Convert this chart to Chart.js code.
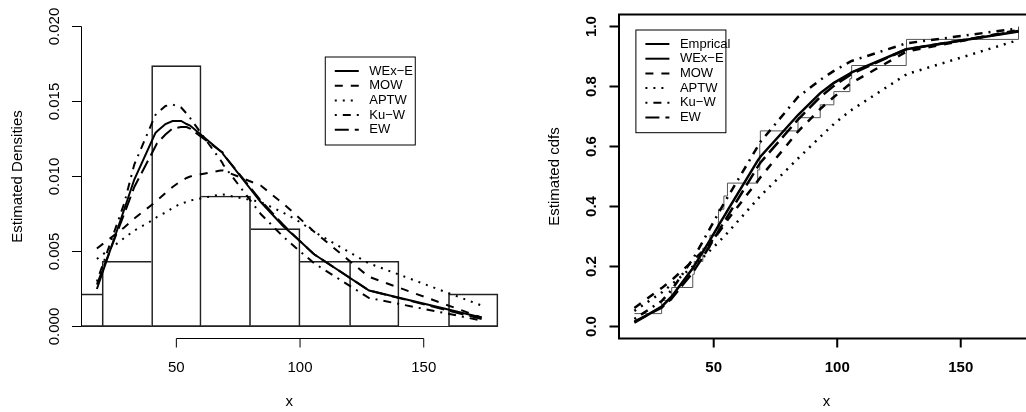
<!DOCTYPE html>
<html>
<head>
<meta charset="utf-8">
<script src="https://cdn.jsdelivr.net/npm/chart.js@4.4.1/dist/chart.umd.min.js"></script>
<style>
  html, body { margin: 0; padding: 0; background: #fff; overflow: hidden; }
  #wrap { position: relative; width: 1026px; height: 412px; overflow: hidden; }
  #left { position: absolute; left: 0; top: 0; }
  #right { position: absolute; left: 513px; top: 0; }
</style>
</head>
<body>
<div id="wrap">
  <canvas id="left" width="513" height="412"></canvas>
  <canvas id="right" width="530" height="412"></canvas>
</div>
<script>
// observed failure times (sorted, unique) where the fitted curves are drawn
let fitX = [17.88, 28.92, 33.00, 41.52, 42.12, 45.60, 48.48, 51.84, 51.96, 54.12, 55.56,
            67.80, 68.64, 68.88, 84.12, 93.12, 98.64, 105.12, 105.84, 127.92, 128.04, 173.40];

// histogram
let binEdges = [0, 20, 40, 60, 80, 100, 120, 140, 160, 180];
let binDensity = [0.00217, 0.00435, 0.01739, 0.00870, 0.00652, 0.00435, 0.00435, 0, 0.00217];

// estimated densities
let pdfWExE = [0.0025, 0.0078, 0.0098, 0.0129, 0.0130, 0.0135, 0.0137, 0.0137, 0.0137, 0.0135, 0.0134,
               0.0117, 0.0116, 0.0115, 0.0083, 0.0067, 0.0059, 0.0049, 0.0048, 0.0024, 0.0024, 0.0006];
let pdfMOW  = [0.0052, 0.0066, 0.0072, 0.0083, 0.0084, 0.0089, 0.0093, 0.0097, 0.0097, 0.0099, 0.0100,
               0.0104, 0.0104, 0.0104, 0.0094, 0.0082, 0.0074, 0.0064, 0.0063, 0.0033, 0.0033, 0.0006];
let pdfAPTW = [0.0045, 0.0059, 0.0064, 0.0072, 0.0073, 0.0076, 0.0079, 0.0082, 0.0082, 0.0083, 0.0084,
               0.0088, 0.0088, 0.0088, 0.0083, 0.0076, 0.0071, 0.0064, 0.0063, 0.0042, 0.0042, 0.0014];
let pdfKuW  = [0.0030, 0.0082, 0.0108, 0.0141, 0.0142, 0.0147, 0.0148, 0.0146, 0.0146, 0.0142, 0.0139,
               0.0111, 0.0109, 0.0108, 0.0075, 0.0060, 0.0052, 0.0043, 0.0042, 0.0019, 0.0019, 0.0004];
let pdfEW   = [0.0028, 0.0075, 0.0093, 0.0120, 0.0122, 0.0128, 0.0132, 0.0133, 0.0133, 0.0133, 0.0132,
               0.0117, 0.0116, 0.0115, 0.0084, 0.0068, 0.0059, 0.0049, 0.0048, 0.0024, 0.0024, 0.0005];

// empirical and estimated cdfs
let ecdfY   = [0.043, 0.087, 0.130, 0.174, 0.217, 0.261, 0.304, 0.348, 0.391, 0.435, 0.478,
               0.522, 0.609, 0.652, 0.696, 0.739, 0.783, 0.826, 0.870, 0.913, 0.957, 1.000];
let cdfWExE = [0.013, 0.066, 0.100, 0.194, 0.202, 0.249, 0.288, 0.335, 0.337, 0.366, 0.386,
               0.553, 0.563, 0.566, 0.705, 0.778, 0.812, 0.843, 0.847, 0.924, 0.924, 0.983];
let cdfMOW  = [0.062, 0.128, 0.155, 0.218, 0.223, 0.252, 0.278, 0.312, 0.313, 0.337, 0.355,
               0.485, 0.494, 0.497, 0.650, 0.725, 0.765, 0.808, 0.812, 0.916, 0.917, 0.988];
let cdfAPTW = [0.052, 0.113, 0.140, 0.200, 0.204, 0.230, 0.253, 0.280, 0.281, 0.300, 0.312,
               0.425, 0.433, 0.435, 0.560, 0.632, 0.675, 0.718, 0.722, 0.840, 0.841, 0.955];
let cdfKuW  = [0.025, 0.085, 0.122, 0.225, 0.233, 0.284, 0.327, 0.377, 0.379, 0.410, 0.430,
               0.600, 0.610, 0.615, 0.765, 0.822, 0.852, 0.882, 0.885, 0.944, 0.944, 0.994];
let cdfEW   = [0.016, 0.063, 0.094, 0.180, 0.187, 0.232, 0.270, 0.316, 0.318, 0.347, 0.367,
               0.532, 0.543, 0.546, 0.690, 0.765, 0.802, 0.838, 0.842, 0.924, 0.924, 0.985];

// axes
let xTicks = [50, 100, 150];
let pdfTicks = [0, 0.005, 0.010, 0.015, 0.020];
let pdfTickLabels = ['0.000', '0.005', '0.010', '0.015', '0.020'];
let cdfTicks = [0, 0.2, 0.4, 0.6, 0.8, 1.0];
let cdfTickLabels = ['0.0', '0.2', '0.4', '0.6', '0.8', '1.0'];

let FONT = '"Liberation Sans", Arial, Helvetica, sans-serif';

// R line types (lty 1..5)
let dashes = {
    'WEx−E': [],
    'MOW': [8, 8],
    'APTW': [2, 6],
    'Ku−W': [2, 6, 8, 6],
    'EW': [14, 6]
};

function pts(xs, ys) {
    return xs.map((v, i) => ({x: v, y: ys[i]}));
}

function curve(label, ys, width) {
    return {
        type: 'line',
        label: label,
        data: pts(fitX, ys),
        borderColor: '#000',
        borderWidth: width,
        borderDash: dashes[label],
        pointRadius: 0,
        tension: 0,
        fill: false,
        order: 1
    };
}

// axes, tick labels and titles drawn the way R does them
let rAxes = {
    id: 'rAxes',
    afterDraw(chart, args, o) {
        let ctx = chart.ctx;
        let a = chart.chartArea;
        let x = chart.scales.x;
        let y = chart.scales.y;
        ctx.save();
        ctx.strokeStyle = '#000';
        ctx.fillStyle = '#000';
        ctx.lineWidth = o.lw;
        ctx.setLineDash([]);
        ctx.beginPath();
        if (o.box) {
            ctx.rect(a.left, a.top, a.right - a.left, a.bottom - a.top);
        } else {
            ctx.moveTo(x.getPixelForValue(o.xTicks[0]), a.bottom);
            ctx.lineTo(x.getPixelForValue(o.xTicks[o.xTicks.length - 1]), a.bottom);
            ctx.moveTo(a.left, y.getPixelForValue(o.yTicks[0]));
            ctx.lineTo(a.left, y.getPixelForValue(o.yTicks[o.yTicks.length - 1]));
        }
        o.xTicks.forEach(v => {
            let px = x.getPixelForValue(v);
            ctx.moveTo(px, a.bottom);
            ctx.lineTo(px, a.bottom + 9);
        });
        o.yTicks.forEach(v => {
            let py = y.getPixelForValue(v);
            ctx.moveTo(a.left, py);
            ctx.lineTo(a.left - 9.5, py);
        });
        ctx.stroke();

        ctx.font = (o.bold ? 'bold ' : '') + '15px ' + FONT;
        ctx.textAlign = 'center';
        ctx.textBaseline = 'middle';
        o.xTicks.forEach(v => ctx.fillText(String(v), x.getPixelForValue(v), a.bottom + 29));
        o.yTicks.forEach((v, i) => {
            ctx.save();
            ctx.translate(a.left - 27, y.getPixelForValue(v));
            ctx.rotate(-Math.PI / 2);
            ctx.fillText(o.yLabels[i], 0, 0);
            ctx.restore();
        });

        ctx.font = '15px ' + FONT;
        ctx.fillText('x', (a.left + a.right) / 2, a.bottom + 63);
        ctx.save();
        ctx.translate(a.left - 64, (a.top + a.bottom) / 2);
        ctx.rotate(-Math.PI / 2);
        ctx.fillText(o.yTitle, 0, 0);
        ctx.restore();
        ctx.restore();
    }
};

// boxed legend placed at a data position, like legend(x, y, ...)
let rLegend = {
    id: 'rLegend',
    afterDraw(chart, args, o) {
        let ctx = chart.ctx;
        let left = chart.scales.x.getPixelForValue(o.at[0]);
        let top = chart.scales.y.getPixelForValue(o.at[1]);
        let h = 14.5 + 14.7 * o.items.length;
        ctx.save();
        ctx.fillStyle = '#fff';
        ctx.fillRect(left, top, 90, h);
        ctx.strokeStyle = '#000';
        ctx.lineWidth = 1;
        ctx.setLineDash([]);
        ctx.strokeRect(left + 0.5, top + 0.5, 90, h);
        ctx.font = '13px ' + FONT;
        ctx.textAlign = 'left';
        ctx.textBaseline = 'middle';
        o.items.forEach((lab, i) => {
            let ly = top + 14.5 + 14.7 * i;
            ctx.beginPath();
            ctx.setLineDash(dashes[lab] || []);
            ctx.lineWidth = o.lw;
            ctx.moveTo(left + 10, ly);
            ctx.lineTo(left + 34, ly);
            ctx.stroke();
            ctx.fillStyle = '#000';
            ctx.fillText(lab, left + 44.5, ly);
        });
        ctx.restore();
    }
};

let histData = binEdges.slice(1).map((e, i) => ({x: (e + binEdges[i]) / 2, y: binDensity[i]}));
let lastBin = histData.length - 1;

// a shared edge between two bins is drawn once, by the taller bin
function binBorder(c) {
    let i = c.dataIndex;
    let d = binDensity;
    return {
        top: 1,
        bottom: 1,
        left: (i === 0 || d[i] >= d[i - 1]) ? 1 : 0,
        right: (i === lastBin || d[i] > d[i + 1]) ? 1 : 0
    };
}

new Chart(document.getElementById('left'), {
    type: 'bar',
    data: {
        datasets: [
            curve('WEx−E', pdfWExE, 2),
            curve('MOW', pdfMOW, 2),
            curve('APTW', pdfAPTW, 2),
            curve('Ku−W', pdfKuW, 2),
            curve('EW', pdfEW, 2),
            {
                type: 'bar',
                label: 'hist',
                data: histData,
                backgroundColor: 'rgba(0,0,0,0)',
                borderColor: '#222',
                borderWidth: binBorder,
                borderSkipped: false,
                barPercentage: 1,
                categoryPercentage: 1,
                clip: {left: 0, right: 2, top: 2, bottom: 2},
                order: 5
            },
            {
                type: 'line',
                label: 'base',
                data: [{x: binEdges[0], y: 0}, {x: binEdges[binEdges.length - 1], y: 0}],
                borderColor: '#222',
                borderWidth: 1,
                pointRadius: 0,
                clip: {left: 0, right: 1, top: 1, bottom: 1},
                order: 6
            }
        ]
    },
    options: {
        responsive: false,
        animation: false,
        layout: {padding: {left: 81.5, top: 14.5, right: 16, bottom: 73.5}},
        scales: {
            x: {type: 'linear', min: 11.66, max: 179.62, offset: false, display: false},
            y: {type: 'linear', min: -0.0008, max: 0.0208, display: false}
        },
        plugins: {
            legend: {display: false},
            tooltip: {enabled: false},
            rAxes: {xTicks: xTicks, yTicks: pdfTicks, yLabels: pdfTickLabels, yTitle: 'Estimated Densities', box: false, bold: false, lw: 1},
            rLegend: {at: [110, 0.018], items: ['WEx−E', 'MOW', 'APTW', 'Ku−W', 'EW'], lw: 2}
        }
    },
    plugins: [rAxes, rLegend]
});

new Chart(document.getElementById('right'), {
    type: 'line',
    data: {
        datasets: [
            curve('WEx−E', cdfWExE, 2.5),
            curve('MOW', cdfMOW, 2.5),
            curve('APTW', cdfAPTW, 2.5),
            curve('Ku−W', cdfKuW, 2.5),
            curve('EW', cdfEW, 2.5),
            {
                label: 'Emprical',
                data: pts(fitX, ecdfY),
                stepped: 'before',
                borderColor: '#555',
                borderWidth: 1,
                pointRadius: 0,
                fill: false,
                order: 5
            }
        ]
    },
    options: {
        responsive: false,
        animation: false,
        layout: {padding: {left: 106, top: 14.5, right: 9.1, bottom: 73.5}},
        scales: {
            x: {type: 'linear', min: 11.66, max: 179.62, display: false},
            y: {type: 'linear', min: -0.04, max: 1.04, display: false}
        },
        plugins: {
            legend: {display: false},
            tooltip: {enabled: false},
            rAxes: {xTicks: xTicks, yTicks: cdfTicks, yLabels: cdfTickLabels, yTitle: 'Estimated cdfs', box: true, bold: true, lw: 2},
            rLegend: {at: [18.3, 0.99], items: ['Emprical', 'WEx−E', 'MOW', 'APTW', 'Ku−W', 'EW'], lw: 2}
        }
    },
    plugins: [rAxes, rLegend]
});
</script>
</body>
</html>
